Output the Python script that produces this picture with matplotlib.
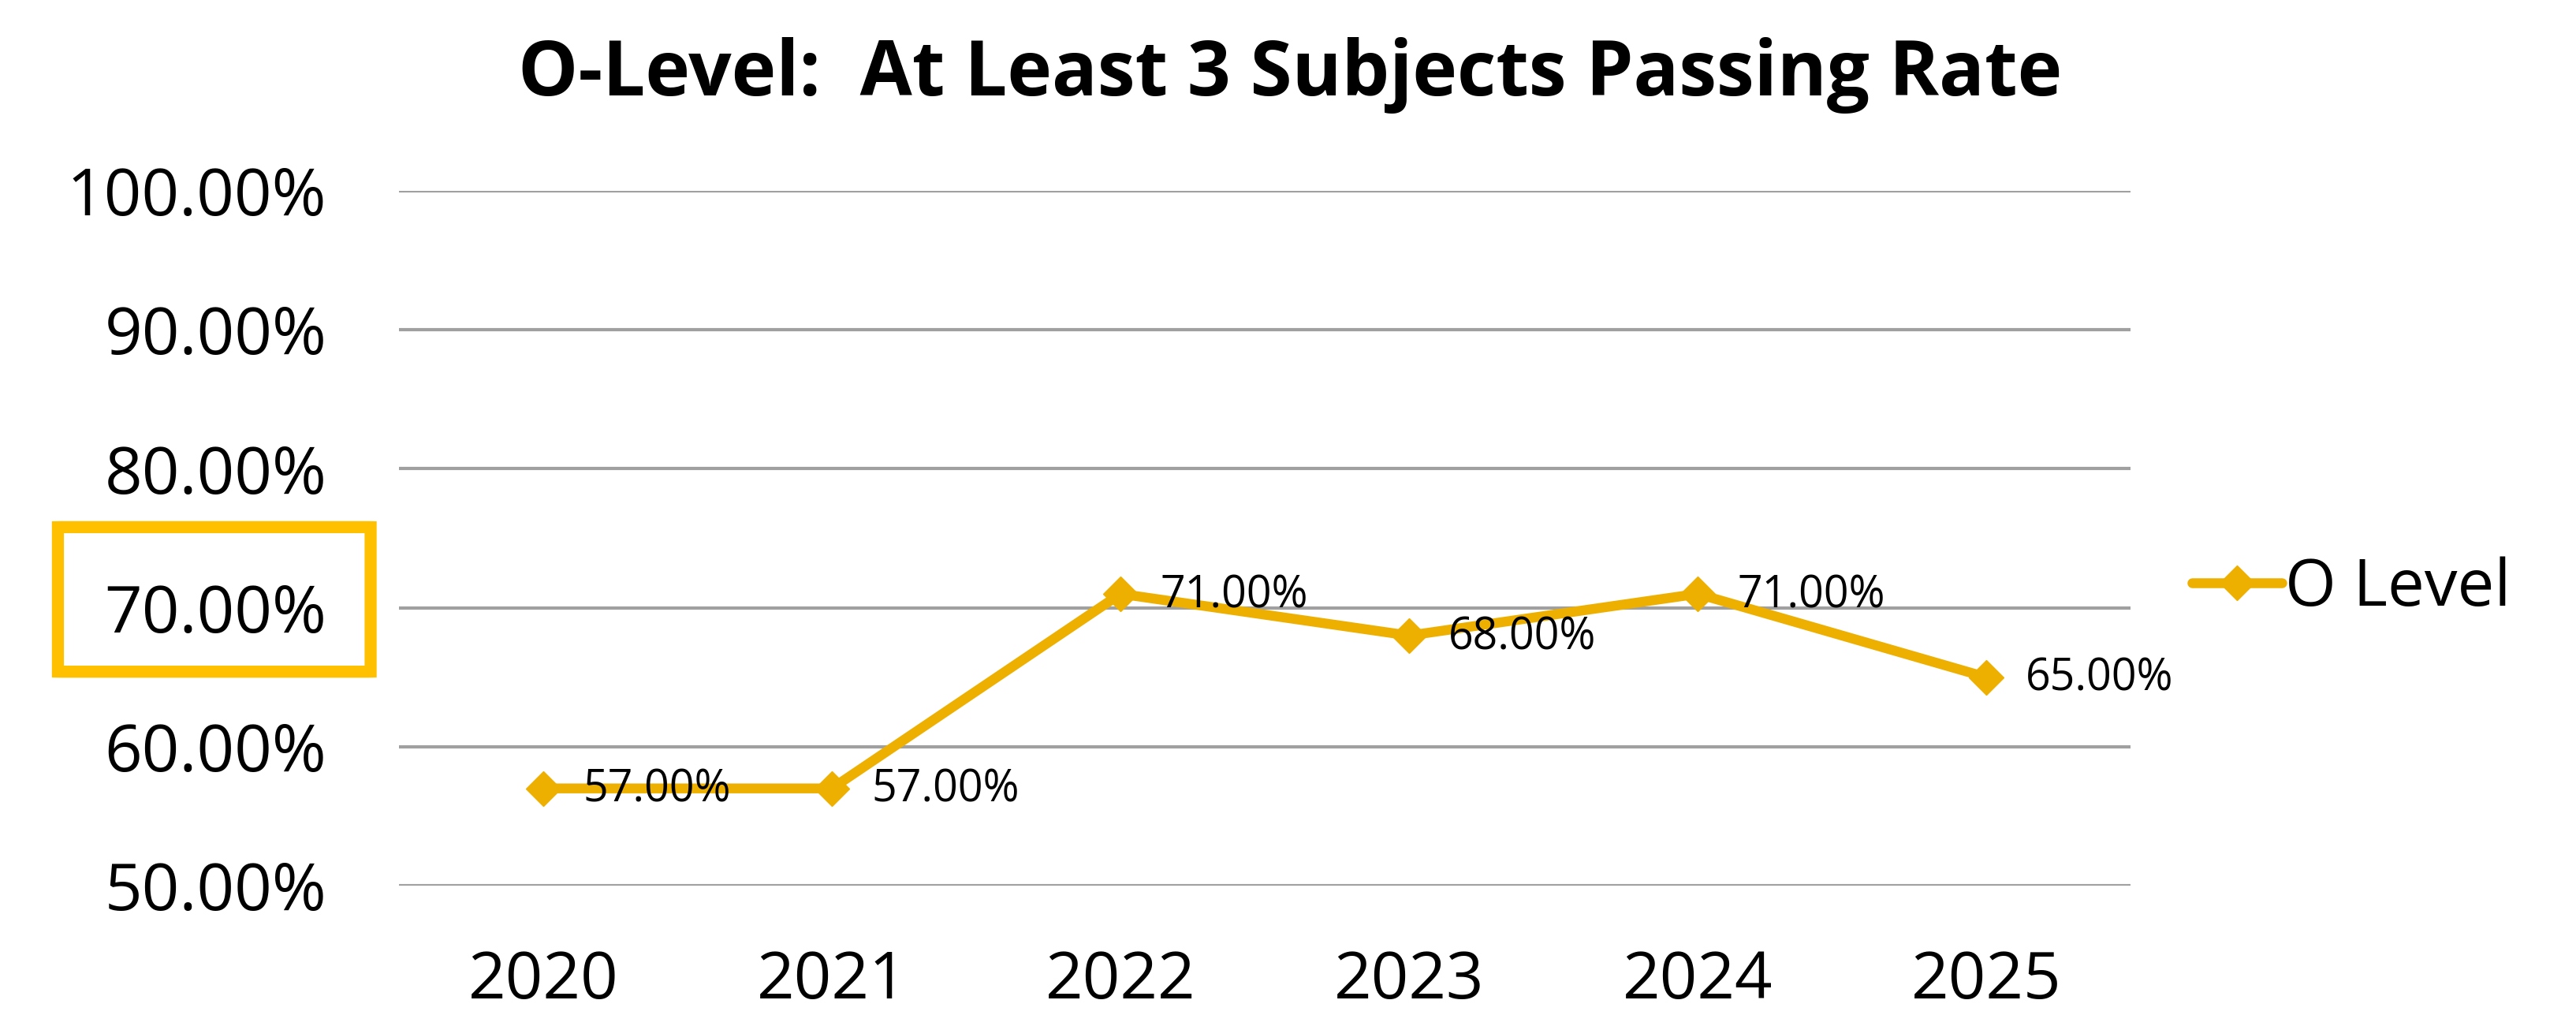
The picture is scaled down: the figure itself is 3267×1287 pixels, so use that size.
import matplotlib
matplotlib.use("Agg")
from matplotlib import pyplot as plt
from matplotlib.patches import FancyBboxPatch
from matplotlib.transforms import blended_transform_factory

plt.rcParams['font.family'] = ['Open Sans', 'DejaVu Sans']

"""
    Data
"""
years = ['2020', '2021', '2022', '2023', '2024', '2025']
pass_rate = [57, 57, 71, 68, 71, 65]
y_ticks = [50, 60, 70, 80, 90, 100]
series_name = 'O Level'
title = 'O-Level:  At Least 3 Subjects Passing Rate'
highlight_tick = 70

line_color = '#EEB000'
box_color = '#FFC000'

"""
    Figure
"""
fig = plt.figure(figsize=(32.67, 12.87), dpi=100)
ax = fig.add_axes([0.1549, 0.1274, 0.6722, 0.6846])

x = list(range(len(years)))
ax.plot(x, pass_rate, color=line_color, linewidth=9, marker='D',
        markersize=22, solid_capstyle='round', label=series_name)

for xi, v in zip(x, pass_rate):
    ax.annotate('{:.2f}%'.format(v), (xi, v), xytext=(36, -2),
                textcoords='offset points', ha='left', va='center',
                fontsize=40, color='black')

ax.set_xlim(-0.5, len(years) - 0.5)
ax.set_ylim(50, 100)
ax.set_xticks(x)
ax.set_xticklabels(years)
ax.set_yticks(y_ticks)
ax.set_yticklabels(['{:.2f}%'.format(t) for t in y_ticks])
ax.tick_params(axis='both', length=0, labelsize=60)
ax.tick_params(axis='y', pad=66)
ax.tick_params(axis='x', pad=58)

ax.grid(axis='y', color='#A0A0A0', linewidth=3)
ax.set_axisbelow(True)
for s in ax.spines.values():
    s.set_visible(False)

# highlight box round the 70% tick label
tr = blended_transform_factory(ax.transAxes, ax.transData)
box = FancyBboxPatch((-0.197, highlight_tick - 4.6), 0.1806, 10.4,
                     boxstyle='round,pad=0,rounding_size=0.004',
                     transform=tr, clip_on=False, fill=False,
                     edgecolor=box_color, linewidth=11)
ax.add_patch(box)

ax.legend(loc='center left', bbox_to_anchor=(1.0355, 0.4268), frameon=False,
          fontsize=60, handlelength=1.37, handletextpad=0.05,
          borderpad=0, borderaxespad=0)

fig.text(0.5007, 0.926, title, ha='center', va='center',
         fontsize=69, fontweight='bold')

fig.savefig('out.png', dpi=100, facecolor='white')
